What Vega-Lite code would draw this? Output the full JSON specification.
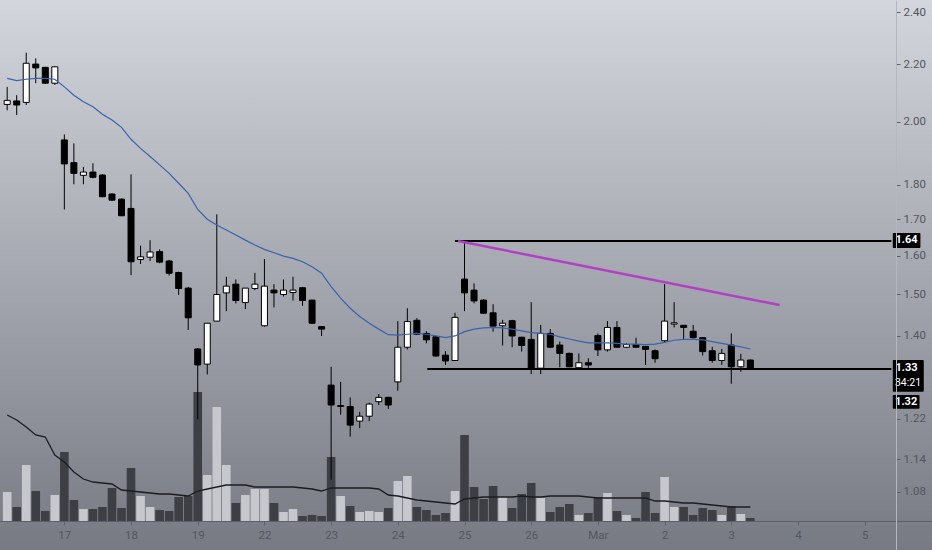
{
  "$schema": "https://vega.github.io/schema/vega-lite/v6.json",
  "width": 932,
  "height": 550,
  "autosize": {"type": "none"},
  "padding": 0,
  "config": {
    "view": {"stroke": null},
    "font": "Roboto, sans-serif"
  },
  "datasets": {
    "bars": [
      {"i":0,"o":2.058,"h":2.119,"l":2.038,"c":2.072,"v":29,"ma":2.149,"vma":106},
      {"i":1,"o":2.070,"h":2.090,"l":2.022,"c":2.056,"v":14,"ma":2.141,"vma":101},
      {"i":2,"o":2.065,"h":2.243,"l":2.056,"c":2.204,"v":56,"ma":2.146,"vma":94},
      {"i":3,"o":2.201,"h":2.222,"l":2.132,"c":2.187,"v":30,"ma":2.149,"vma":86},
      {"i":4,"o":2.189,"h":2.191,"l":2.129,"c":2.132,"v":10,"ma":2.149,"vma":84},
      {"i":5,"o":2.132,"h":2.194,"l":2.126,"c":2.191,"v":26,"ma":2.146,"vma":66},
      {"i":6,"o":1.940,"h":1.958,"l":1.728,"c":1.864,"v":69,"ma":2.119,"vma":59},
      {"i":7,"o":1.868,"h":1.929,"l":1.802,"c":1.835,"v":21,"ma":2.090,"vma":49},
      {"i":8,"o":1.829,"h":1.855,"l":1.802,"c":1.839,"v":12,"ma":2.067,"vma":42},
      {"i":9,"o":1.839,"h":1.866,"l":1.820,"c":1.823,"v":12,"ma":2.050,"vma":39},
      {"i":10,"o":1.830,"h":1.832,"l":1.764,"c":1.765,"v":14,"ma":2.025,"vma":38},
      {"i":11,"o":1.773,"h":1.775,"l":1.753,"c":1.755,"v":33,"ma":2.005,"vma":37},
      {"i":12,"o":1.758,"h":1.760,"l":1.709,"c":1.710,"v":13,"ma":1.981,"vma":31},
      {"i":13,"o":1.731,"h":1.832,"l":1.549,"c":1.584,"v":53,"ma":1.942,"vma":30},
      {"i":14,"o":1.590,"h":1.627,"l":1.578,"c":1.597,"v":25,"ma":1.913,"vma":29},
      {"i":15,"o":1.596,"h":1.642,"l":1.586,"c":1.610,"v":14,"ma":1.887,"vma":28},
      {"i":16,"o":1.611,"h":1.617,"l":1.580,"c":1.583,"v":11,"ma":1.861,"vma":27},
      {"i":17,"o":1.586,"h":1.589,"l":1.548,"c":1.554,"v":10,"ma":1.835,"vma":27},
      {"i":18,"o":1.556,"h":1.558,"l":1.499,"c":1.515,"v":24,"ma":1.805,"vma":26},
      {"i":19,"o":1.516,"h":1.519,"l":1.414,"c":1.443,"v":25,"ma":1.775,"vma":25},
      {"i":20,"o":1.370,"h":1.372,"l":1.219,"c":1.334,"v":129,"ma":1.728,"vma":30},
      {"i":21,"o":1.336,"h":1.430,"l":1.313,"c":1.430,"v":46,"ma":1.700,"vma":32},
      {"i":22,"o":1.435,"h":1.714,"l":1.435,"c":1.500,"v":114,"ma":1.684,"vma":34},
      {"i":23,"o":1.504,"h":1.545,"l":1.459,"c":1.521,"v":56,"ma":1.670,"vma":36},
      {"i":24,"o":1.526,"h":1.538,"l":1.478,"c":1.485,"v":18,"ma":1.656,"vma":36},
      {"i":25,"o":1.480,"h":1.516,"l":1.464,"c":1.516,"v":26,"ma":1.642,"vma":36},
      {"i":26,"o":1.515,"h":1.555,"l":1.511,"c":1.526,"v":32,"ma":1.629,"vma":34},
      {"i":27,"o":1.424,"h":1.591,"l":1.422,"c":1.521,"v":32,"ma":1.617,"vma":34},
      {"i":28,"o":1.511,"h":1.526,"l":1.468,"c":1.504,"v":18,"ma":1.608,"vma":34},
      {"i":29,"o":1.500,"h":1.538,"l":1.495,"c":1.511,"v":9,"ma":1.599,"vma":34},
      {"i":30,"o":1.505,"h":1.545,"l":1.485,"c":1.511,"v":12,"ma":1.593,"vma":34},
      {"i":31,"o":1.517,"h":1.519,"l":1.472,"c":1.485,"v":5,"ma":1.584,"vma":33},
      {"i":32,"o":1.486,"h":1.487,"l":1.428,"c":1.430,"v":6,"ma":1.571,"vma":32},
      {"i":33,"o":1.422,"h":1.423,"l":1.400,"c":1.416,"v":5,"ma":1.554,"vma":30},
      {"i":34,"o":1.290,"h":1.330,"l":1.102,"c":1.248,"v":64,"ma":1.520,"vma":33},
      {"i":35,"o":1.245,"h":1.297,"l":1.228,"c":1.247,"v":25,"ma":1.491,"vma":33},
      {"i":36,"o":1.245,"h":1.264,"l":1.184,"c":1.207,"v":15,"ma":1.466,"vma":33},
      {"i":37,"o":1.215,"h":1.234,"l":1.201,"c":1.225,"v":9,"ma":1.446,"vma":33},
      {"i":38,"o":1.225,"h":1.253,"l":1.215,"c":1.250,"v":10,"ma":1.430,"vma":33},
      {"i":39,"o":1.255,"h":1.271,"l":1.248,"c":1.264,"v":9,"ma":1.416,"vma":32},
      {"i":40,"o":1.264,"h":1.265,"l":1.240,"c":1.248,"v":13,"ma":1.403,"vma":26},
      {"i":41,"o":1.297,"h":1.435,"l":1.278,"c":1.374,"v":40,"ma":1.402,"vma":25},
      {"i":42,"o":1.374,"h":1.466,"l":1.369,"c":1.434,"v":45,"ma":1.404,"vma":23},
      {"i":43,"o":1.437,"h":1.442,"l":1.402,"c":1.404,"v":14,"ma":1.406,"vma":21},
      {"i":44,"o":1.406,"h":1.411,"l":1.383,"c":1.391,"v":11,"ma":1.404,"vma":20},
      {"i":45,"o":1.398,"h":1.400,"l":1.353,"c":1.354,"v":6,"ma":1.400,"vma":19},
      {"i":46,"o":1.356,"h":1.365,"l":1.334,"c":1.343,"v":8,"ma":1.396,"vma":18},
      {"i":47,"o":1.344,"h":1.455,"l":1.343,"c":1.444,"v":30,"ma":1.400,"vma":17},
      {"i":48,"o":1.539,"h":1.638,"l":1.459,"c":1.504,"v":86,"ma":1.410,"vma":22},
      {"i":49,"o":1.511,"h":1.528,"l":1.478,"c":1.484,"v":34,"ma":1.416,"vma":23},
      {"i":50,"o":1.486,"h":1.488,"l":1.452,"c":1.454,"v":22,"ma":1.419,"vma":24},
      {"i":51,"o":1.455,"h":1.476,"l":1.410,"c":1.423,"v":35,"ma":1.420,"vma":24},
      {"i":52,"o":1.424,"h":1.438,"l":1.378,"c":1.430,"v":24,"ma":1.419,"vma":24},
      {"i":53,"o":1.436,"h":1.438,"l":1.374,"c":1.400,"v":13,"ma":1.416,"vma":24},
      {"i":54,"o":1.397,"h":1.398,"l":1.364,"c":1.378,"v":27,"ma":1.412,"vma":25},
      {"i":55,"o":1.392,"h":1.481,"l":1.314,"c":1.327,"v":38,"ma":1.408,"vma":24},
      {"i":56,"o":1.327,"h":1.426,"l":1.314,"c":1.406,"v":23,"ma":1.406,"vma":24},
      {"i":57,"o":1.406,"h":1.416,"l":1.372,"c":1.374,"v":9,"ma":1.404,"vma":25},
      {"i":58,"o":1.379,"h":1.387,"l":1.329,"c":1.360,"v":14,"ma":1.398,"vma":25},
      {"i":59,"o":1.360,"h":1.362,"l":1.329,"c":1.330,"v":17,"ma":1.393,"vma":25},
      {"i":60,"o":1.328,"h":1.360,"l":1.327,"c":1.339,"v":6,"ma":1.388,"vma":25},
      {"i":61,"o":1.339,"h":1.349,"l":1.328,"c":1.334,"v":8,"ma":1.384,"vma":24},
      {"i":62,"o":1.401,"h":1.406,"l":1.354,"c":1.368,"v":24,"ma":1.384,"vma":23},
      {"i":63,"o":1.368,"h":1.435,"l":1.364,"c":1.420,"v":28,"ma":1.384,"vma":23},
      {"i":64,"o":1.420,"h":1.435,"l":1.373,"c":1.374,"v":10,"ma":1.383,"vma":23},
      {"i":65,"o":1.374,"h":1.383,"l":1.372,"c":1.380,"v":6,"ma":1.381,"vma":23},
      {"i":66,"o":1.380,"h":1.396,"l":1.373,"c":1.374,"v":3,"ma":1.381,"vma":23},
      {"i":67,"o":1.376,"h":1.377,"l":1.334,"c":1.369,"v":29,"ma":1.380,"vma":23},
      {"i":68,"o":1.366,"h":1.369,"l":1.339,"c":1.348,"v":8,"ma":1.381,"vma":20},
      {"i":69,"o":1.389,"h":1.526,"l":1.384,"c":1.435,"v":44,"ma":1.385,"vma":20},
      {"i":70,"o":1.428,"h":1.481,"l":1.420,"c":1.431,"v":14,"ma":1.390,"vma":19},
      {"i":71,"o":1.425,"h":1.426,"l":1.392,"c":1.420,"v":14,"ma":1.392,"vma":18},
      {"i":72,"o":1.411,"h":1.426,"l":1.394,"c":1.396,"v":6,"ma":1.392,"vma":18},
      {"i":73,"o":1.396,"h":1.397,"l":1.355,"c":1.364,"v":13,"ma":1.391,"vma":17},
      {"i":74,"o":1.366,"h":1.375,"l":1.339,"c":1.344,"v":11,"ma":1.387,"vma":16},
      {"i":75,"o":1.344,"h":1.370,"l":1.334,"c":1.360,"v":6,"ma":1.383,"vma":15},
      {"i":76,"o":1.379,"h":1.406,"l":1.293,"c":1.330,"v":15,"ma":1.379,"vma":14},
      {"i":77,"o":1.330,"h":1.359,"l":1.319,"c":1.345,"v":7,"ma":1.375,"vma":14},
      {"i":78,"o":1.345,"h":1.346,"l":1.324,"c":1.325,"v":3,"ma":1.370,"vma":14}
    ],
    "levels": [
      {"i": 47.0, "i2": 92.8, "p": 1.64},
      {"i": 44.1, "i2": 92.8, "p": 1.325}
    ],
    "trend": [
      {"i": 47.33, "p": 1.6396},
      {"i": 81.07, "p": 1.474}
    ],
    "boxes": [
      {"i": 92.95, "i2": 95.85, "p0": 1.6614, "p1": 1.6206},
      {"i": 92.95, "i2": 96.2, "p0": 1.3451, "p1": 1.2758},
      {"i": 92.95, "i2": 95.75, "p0": 1.2690, "p1": 1.2405}
    ],
    "priceText": [
      {"i": 94.4, "p": 1.6423, "t": "1.64"},
      {"i": 94.4, "p": 1.3273, "t": "1.33"},
      {"i": 94.35, "p": 1.2545, "t": "1.32"}
    ],
    "timeText": [
      {"i": 94.55, "p": 1.2955, "t": "34:21"}
    ]
  },
  "layer": [
    {
      "data": {"values": [{}]},
      "mark": {
        "type": "rect",
        "fill": {
          "gradient": "linear", "x1": 0, "y1": 0, "x2": 0, "y2": 1,
          "stops": [
            {"offset": 0, "color": "#d3d6dc"},
            {"offset": 1, "color": "#777a83"}
          ]
        }
      }
    },
    {
      "data": {"name": "bars"},
      "encoding": {
        "x": {
          "field": "i", "type": "quantitative",
          "scale": {"domain": [-0.228, 96.54], "nice": false, "zero": false},
          "axis": {
            "orient": "bottom", "offset": -29, "title": null, "grid": false, "zindex": 2,
            "values": [6, 13, 20, 27, 34, 41, 48, 55, 62, 69, 76, 83, 90],
            "labelExpr": "['17','18','19','22','23','24','25','26','Mar','2','3','4','5'][(datum.value-6)/7]",
            "domainColor": "#5d606b", "tickColor": "#5d606b", "tickSize": 4,
            "labelColor": "#535660", "labelFontSize": 11.5, "labelPadding": 4, "labelFlush": false
          }
        }
      },
      "layer": [
        {
          "mark": {"type": "bar", "size": 8.6, "orient": "vertical"},
          "encoding": {
            "y": {"field": "v", "type": "quantitative", "scale": {"domain": [-29, 521], "nice": false}, "axis": null},
            "fill": {"condition": {"test": "datum.c > datum.o", "value": "#c6c8cd"}, "value": "#3d3f45"}
          }
        },
        {
          "mark": {"type": "line", "color": "#1c1d21", "strokeWidth": 1.3},
          "encoding": {
            "y": {"field": "vma", "type": "quantitative", "scale": {"domain": [-29, 521], "nice": false}, "axis": null}
          }
        }
      ]
    },
    {
      "encoding": {
        "x": {
          "field": "i", "type": "quantitative",
          "scale": {"domain": [-0.228, 96.54], "nice": false, "zero": false},
          "axis": {
            "orient": "bottom", "offset": -29, "title": null, "grid": false, "zindex": 2,
            "values": [6, 13, 20, 27, 34, 41, 48, 55, 62, 69, 76, 83, 90],
            "labelExpr": "['17','18','19','22','23','24','25','26','Mar','2','3','4','5'][(datum.value-6)/7]",
            "domainColor": "#5d606b", "tickColor": "#5d606b", "tickSize": 4,
            "labelColor": "#535660", "labelFontSize": 11.5, "labelPadding": 4, "labelFlush": false
          }
        }
      },
      "layer": [
        {
          "data": {"name": "bars"},
          "mark": {"type": "rule", "color": "#000000", "strokeWidth": 1},
          "encoding": {
            "y": {
              "field": "l", "type": "quantitative",
              "scale": {"type": "log", "domain": [0.9805, 2.4486], "nice": false, "zero": false},
              "axis": {
                "orient": "right", "offset": -36, "title": null, "grid": false, "zindex": 2,
                "values": [2.4, 2.2, 2.0, 1.8, 1.7, 1.6, 1.5, 1.4, 1.22, 1.14, 1.08],
                "format": ".2f", "labelOverlap": false,
                "domainColor": "#b4b7bf", "tickColor": "#5d606b", "tickSize": 4,
                "labelColor": "#535660", "labelFontSize": 11.5, "labelPadding": 3
              }
            },
            "y2": {"field": "h"}
          }
        },
        {
          "data": {"name": "bars"},
          "mark": {"type": "bar", "size": 6, "orient": "vertical", "stroke": "#000000", "strokeWidth": 1},
          "encoding": {
            "y": {"field": "o", "type": "quantitative", "scale": {"type": "log", "domain": [0.9805, 2.4486], "nice": false, "zero": false}},
            "y2": {"field": "c"},
            "fill": {"condition": {"test": "datum.c > datum.o", "value": "#ffffff"}, "value": "#000000"}
          }
        },
        {
          "data": {"name": "bars"},
          "mark": {"type": "line", "color": "#3a62ad", "strokeWidth": 1.2},
          "encoding": {
            "y": {"field": "ma", "type": "quantitative", "scale": {"type": "log", "domain": [0.9805, 2.4486], "nice": false, "zero": false}}
          }
        },
        {
          "data": {"name": "levels"},
          "mark": {"type": "rule", "color": "#000000", "strokeWidth": 2},
          "encoding": {
            "x2": {"field": "i2"},
            "y": {"field": "p", "type": "quantitative", "scale": {"type": "log", "domain": [0.9805, 2.4486], "nice": false, "zero": false}}
          }
        },
        {
          "data": {"name": "trend"},
          "mark": {"type": "line", "color": "#b23fc6", "strokeWidth": 2.5},
          "encoding": {
            "y": {"field": "p", "type": "quantitative", "scale": {"type": "log", "domain": [0.9805, 2.4486], "nice": false, "zero": false}}
          }
        },
        {
          "data": {"name": "boxes"},
          "mark": {"type": "rect", "color": "#000000", "cornerRadius": 1},
          "encoding": {
            "x2": {"field": "i2"},
            "y": {"field": "p0", "type": "quantitative", "scale": {"type": "log", "domain": [0.9805, 2.4486], "nice": false, "zero": false}},
            "y2": {"field": "p1"}
          }
        },
        {
          "data": {"name": "priceText"},
          "mark": {"type": "text", "color": "#ffffff", "fontWeight": "bold", "fontSize": 11, "align": "center", "baseline": "middle"},
          "encoding": {
            "y": {"field": "p", "type": "quantitative", "scale": {"type": "log", "domain": [0.9805, 2.4486], "nice": false, "zero": false}},
            "text": {"field": "t"}
          }
        },
        {
          "data": {"name": "timeText"},
          "mark": {"type": "text", "color": "#ffffff", "fontSize": 10.5, "align": "center", "baseline": "middle"},
          "encoding": {
            "y": {"field": "p", "type": "quantitative", "scale": {"type": "log", "domain": [0.9805, 2.4486], "nice": false, "zero": false}},
            "text": {"field": "t"}
          }
        }
      ]
    }
  ],
  "resolve": {"scale": {"y": "independent"}}
}
